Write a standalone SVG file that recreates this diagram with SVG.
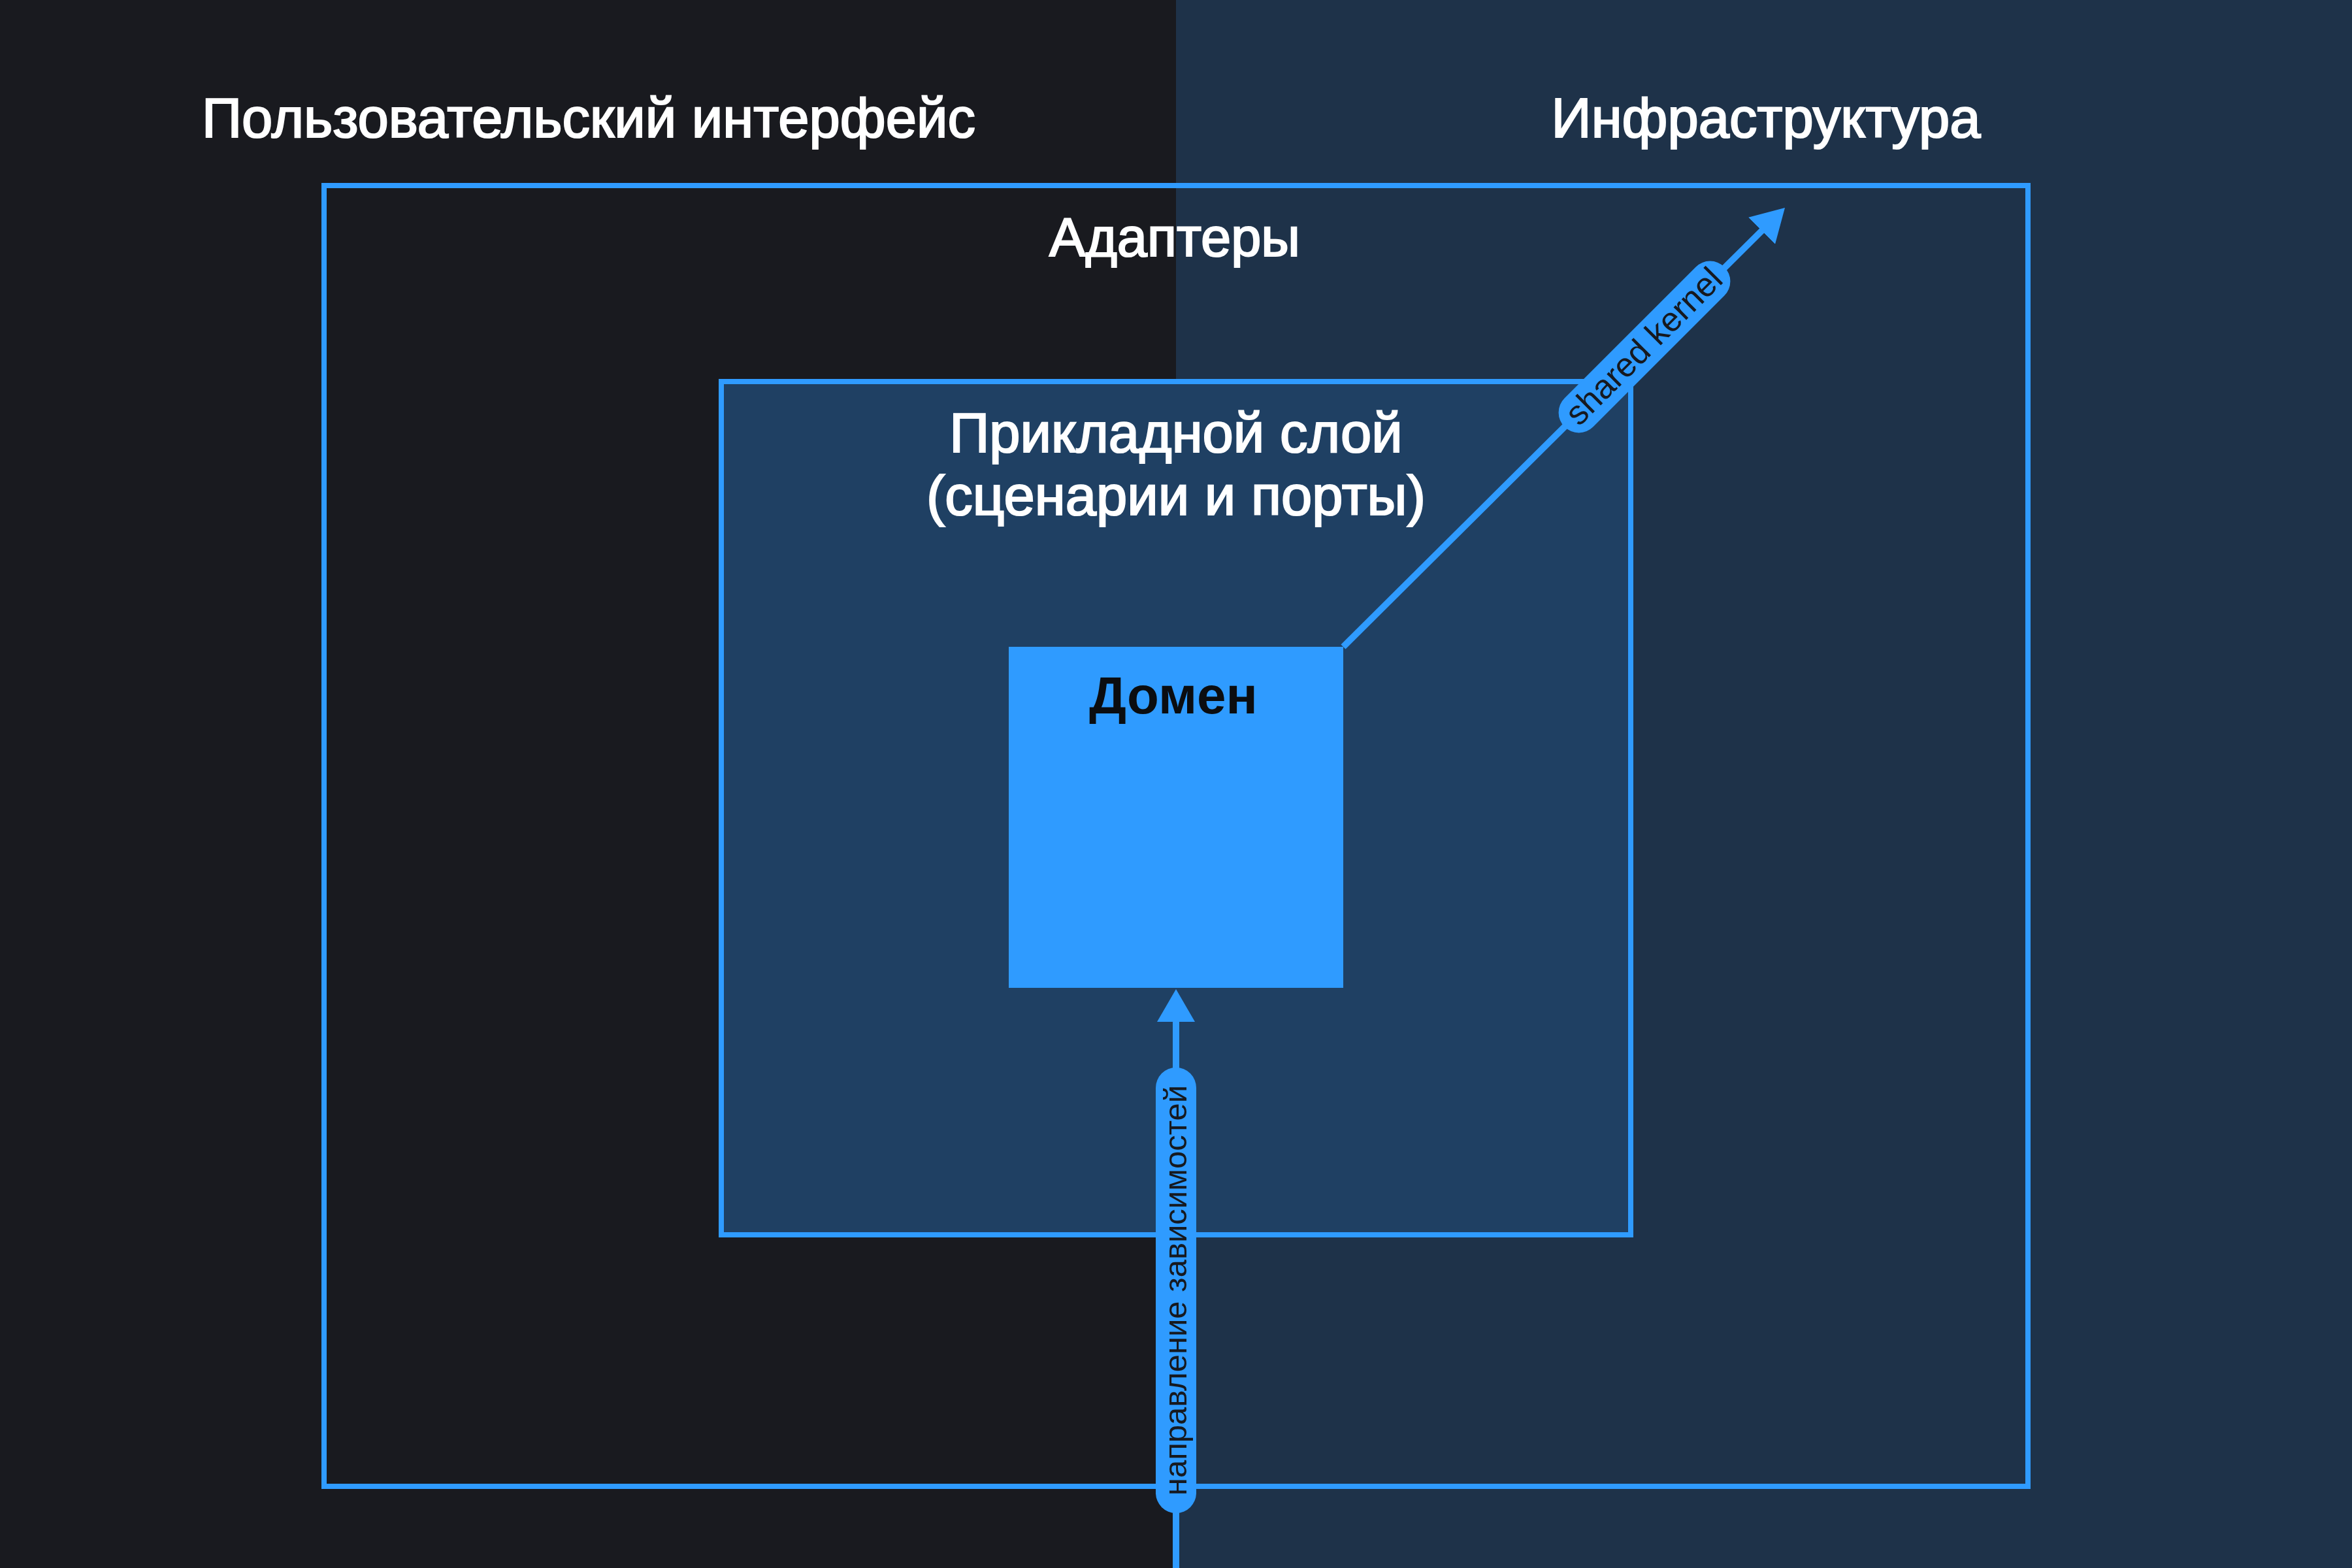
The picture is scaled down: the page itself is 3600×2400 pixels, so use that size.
<svg xmlns="http://www.w3.org/2000/svg" width="3600" height="2400" viewBox="0 0 3600 2400">
  <defs>
    <style>
      .title { font-family: "Liberation Sans", Arial, sans-serif; font-size: 85px; fill: #ffffff; stroke: #ffffff; stroke-width: 2.2px; text-anchor: middle; }
      .frame { fill: none; stroke: #2f9bff; stroke-width: 8; }
      .conn { fill: none; stroke: #2f9bff; stroke-width: 10; }
      .pill { fill: #2f9bff; }
      .plabel { font-family: "Liberation Sans", Arial, sans-serif; font-size: 49px; fill: #16191f; text-anchor: middle; }
      .domtext { font-family: "Liberation Sans", Arial, sans-serif; font-size: 80px; font-weight: bold; fill: #0b0d10; text-anchor: middle; }
    </style>
    <marker id="arrow" viewBox="0 0 50 58" markerWidth="50" markerHeight="58" refX="5" refY="29" orient="auto" markerUnits="userSpaceOnUse">
      <path d="M0,0 L50,29 L0,58 Z" fill="#2f9bff"/>
    </marker>
  </defs>

  <rect x="0" y="0" width="1800" height="2400" fill="#191a1f"/>
  <rect x="1800" y="0" width="1800" height="2400" fill="#1e3249"/>

  <g id="ui-label">
    <text class="title" x="901" y="210">Пользовательский интерфейс</text>
  </g>
  <g id="infra-label">
    <text class="title" x="2703" y="210">Инфраструктура</text>
  </g>

  <g id="adapters">
    <rect class="frame" x="496" y="284" width="2608" height="1991"/>
    <text class="title" x="1798" y="392" style="font-size:83px">Адаптеры</text>
  </g>

  <g id="application">
    <rect x="1104" y="584" width="1392" height="1306" fill="#1f4063" stroke="#2f9bff" stroke-width="8"/>
    <text class="title" x="1800" y="692">Прикладной слой</text>
    <text class="title" x="1800" y="788">(сценарии и порты)</text>
  </g>

  <g id="domain">
    <rect x="1544" y="990" width="512" height="522" fill="#2f9bff"/>
    <text class="domtext" x="1796" y="1092">Домен</text>
  </g>

  <g id="connectors">
    <line class="conn" x1="1800" y1="2400" x2="1800" y2="1559" marker-end="url(#arrow)"/>
    <line class="conn" x1="2056" y1="990" x2="2700.1" y2="349.7" marker-end="url(#arrow)"/>
    <g transform="translate(1800,1975) rotate(-90)">
      <rect class="pill" x="-341" y="-31" width="682" height="62" rx="31"/>
      <text class="plabel" x="0" y="16">направление зависимостей</text>
    </g>
    <g transform="translate(2517,531) rotate(-45)">
      <rect class="pill" x="-173" y="-31" width="346" height="62" rx="31"/>
      <text class="plabel" x="0" y="16" style="font-size:52px">shared kernel</text>
    </g>
  </g>
</svg>
